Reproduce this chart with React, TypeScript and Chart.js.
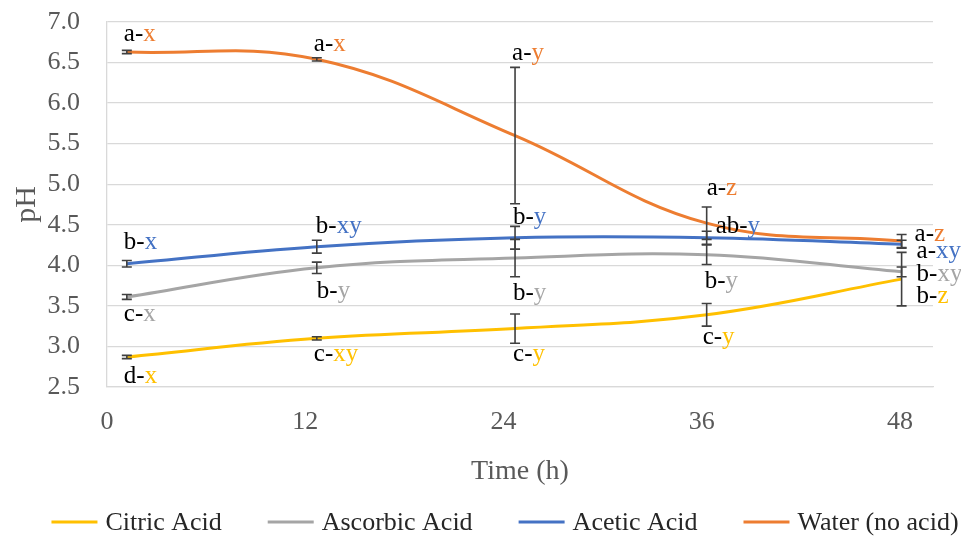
import React, { useEffect, useRef } from "react";
import { Chart, registerables } from "chart.js";

Chart.register(...registerables);

// ---- data ----
const timeHours = [1.2, 12.7, 24.7, 36.3, 48.1];
const xTicks = [0, 12, 24, 36, 48];

const seriesNames = ["Citric Acid", "Ascorbic Acid", "Acetic Acid", "Water (no acid)"];

const citricPH = [2.87, 3.10, 3.22, 3.39, 3.83];
const citricErr = [0.02, 0.02, 0.18, 0.14, 0.33];
const citricLetters = ["d-x", "c-xy", "c-y", "c-y", "b-z"];

const ascorbicPH = [3.61, 3.97, 4.09, 4.13, 3.92];
const ascorbicErr = [0.03, 0.07, 0.23, 0.12, 0.06];
const ascorbicLetters = ["c-x", "b-y", "b-y", "b-y", "b-xy"];

const aceticPH = [4.02, 4.23, 4.34, 4.34, 4.26];
const aceticErr = [0.04, 0.08, 0.14, 0.08, 0.05];
const aceticLetters = ["b-x", "b-xy", "b-y", "ab-y", "a-xy"];

const waterPH = [6.63, 6.54, 5.60, 4.52, 4.30];
const waterErr = [0.02, 0.02, 0.84, 0.20, 0.08];
const waterLetters = ["a-x", "a-x", "a-y", "a-z", "a-z"];

// ---- styling / label placement (pixel offsets from each point) ----
const seriesColors = ["#FFC000", "#A5A5A5", "#4472C4", "#ED7D31"];
const citricLabelOffsets = [[-3, 18], [-3, 15], [-2, 25], [-4, 22], [15, 16]];
const ascorbicLabelOffsets = [[-3, 16], [0, 23], [-2, 34], [-2, 26], [15, 2]];
const aceticLabelOffsets = [[-3, -22], [-1, -21], [-2, -21], [9, -12], [15, 6]];
const waterLabelOffsets = [[-3, -19], [-3, -16], [-3, -83], [0, -36], [13, -8]];

const FONT = "'Liberation Serif', 'Times New Roman', serif";

const seriesList = [
  { name: seriesNames[0], values: citricPH, errors: citricErr, letters: citricLetters, offsets: citricLabelOffsets, color: seriesColors[0] },
  { name: seriesNames[1], values: ascorbicPH, errors: ascorbicErr, letters: ascorbicLetters, offsets: ascorbicLabelOffsets, color: seriesColors[1] },
  { name: seriesNames[2], values: aceticPH, errors: aceticErr, letters: aceticLetters, offsets: aceticLabelOffsets, color: seriesColors[2] },
  { name: seriesNames[3], values: waterPH, errors: waterErr, letters: waterLetters, offsets: waterLabelOffsets, color: seriesColors[3] },
];

const errorBarsAndLabels = {
  id: "errorBarsAndLabels",
  afterDatasetsDraw(chart: any) {
    const ctx = chart.ctx;
    const yScale = chart.scales.y;
    ctx.save();
    ctx.strokeStyle = "#404040";
    ctx.lineWidth = 1.6;
    seriesList.forEach((s, i) => {
      const meta = chart.getDatasetMeta(i);
      meta.data.forEach((pt: any, j: number) => {
        const x = pt.x;
        const yt = yScale.getPixelForValue(s.values[j] + s.errors[j]);
        const yb = yScale.getPixelForValue(s.values[j] - s.errors[j]);
        ctx.beginPath();
        ctx.moveTo(x, yt);
        ctx.lineTo(x, yb);
        ctx.moveTo(x - 5, yt);
        ctx.lineTo(x + 5, yt);
        ctx.moveTo(x - 5, yb);
        ctx.lineTo(x + 5, yb);
        ctx.stroke();
      });
    });
    ctx.font = `25px ${FONT}`;
    ctx.textBaseline = "middle";
    ctx.textAlign = "left";
    seriesList.forEach((s, i) => {
      const meta = chart.getDatasetMeta(i);
      meta.data.forEach((pt: any, j: number) => {
        const txt = s.letters[j];
        const k = txt.lastIndexOf("-") + 1;
        const pre = txt.slice(0, k);
        const suf = txt.slice(k);
        const x = pt.x + s.offsets[j][0];
        const y = pt.y + s.offsets[j][1] + 1;
        ctx.fillStyle = "#000000";
        ctx.fillText(pre, x, y);
        const w = ctx.measureText(pre).width;
        ctx.fillStyle = s.color;
        ctx.fillText(suf, x + w, y);
      });
    });
    ctx.restore();
  },
};

const customLegend = {
  id: "customLegend",
  afterDraw(chart: any) {
    const ctx = chart.ctx;
    ctx.save();
    ctx.font = `26px ${FONT}`;
    ctx.textBaseline = "middle";
    ctx.textAlign = "left";
    const lineLen = 46;
    const gap = 8;
    const itemGap = 46;
    const widths = seriesList.map((s) => ctx.measureText(s.name).width);
    const total = widths.reduce((a, w) => a + lineLen + gap + w, 0) + itemGap * (seriesList.length - 1);
    const centerX = 505;
    const y = 522;
    let x = centerX - total / 2;
    seriesList.forEach((s, i) => {
      ctx.strokeStyle = s.color;
      ctx.lineWidth = 3;
      ctx.beginPath();
      ctx.moveTo(x, y);
      ctx.lineTo(x + lineLen, y);
      ctx.stroke();
      ctx.fillStyle = "#262626";
      ctx.fillText(s.name, x + lineLen + gap, y + 1);
      x += lineLen + gap + widths[i] + itemGap;
    });
    ctx.restore();
  },
};

export default function App() {
  const canvasRef = useRef<HTMLCanvasElement | null>(null);

  useEffect(() => {
    if (!canvasRef.current) return;
    const datasets = seriesList.map((s, i) => ({
      label: s.name,
      data: s.values.map((v, j) => ({ x: timeHours[j], y: v })),
      borderColor: s.color,
      backgroundColor: s.color,
      borderWidth: 3,
      pointRadius: 0,
      pointHoverRadius: 0,
      tension: 0.4,
      fill: false,
      order: seriesList.length - 1 - i,
    }));

    const chart = new Chart(canvasRef.current, {
      type: "line",
      data: { datasets },
      options: {
        animation: false,
        responsive: false,
        devicePixelRatio: 1,
        layout: { padding: { left: 0, right: 28, top: 22, bottom: 40 } },
        plugins: {
          legend: { display: false },
          tooltip: { enabled: false },
        },
        scales: {
          x: {
            type: "linear",
            min: 0,
            max: 50,
            afterBuildTicks: (s: any) => {
              s.ticks = xTicks.map((v) => ({ value: v }));
            },
            afterFit: (s: any) => {
              s.height = 111;
              s.paddingLeft = 0;
              s.paddingRight = 0;
            },
            grid: { display: false },
            border: { display: true, color: "#d9d9d9", width: 1.3 },
            ticks: {
              autoSkip: false,
              maxRotation: 0,
              padding: 12,
              color: "#595959",
              font: { family: FONT, size: 26 },
            },
            title: {
              display: true,
              text: "Time (h)",
              color: "#595959",
              font: { family: FONT, size: 28 },
              padding: { top: 0, bottom: 10 },
            },
          },
          y: {
            min: 2.5,
            max: 7.0,
            afterFit: (s: any) => {
              s.width = 107;
              s.paddingTop = 0;
              s.paddingBottom = 0;
            },
            grid: { color: "#d9d9d9", lineWidth: 1.3, drawTicks: false },
            border: { display: true, color: "#d9d9d9", width: 1.3 },
            ticks: {
              stepSize: 0.5,
              padding: 27,
              color: "#595959",
              font: { family: FONT, size: 26 },
              callback: (v: any) => Number(v).toFixed(1),
            },
            title: {
              display: true,
              text: "pH",
              color: "#595959",
              font: { family: FONT, size: 30 },
              padding: { top: 9, bottom: 0 },
            },
          },
        },
      },
      plugins: [errorBarsAndLabels, customLegend],
    });
    return () => chart.destroy();
  }, []);

  return (
    <div style={{ position: "absolute", left: 0, top: 0, width: 961, height: 538, background: "#ffffff" }}>
      <canvas ref={canvasRef} width={961} height={538} style={{ display: "block" }} />
    </div>
  );
}
